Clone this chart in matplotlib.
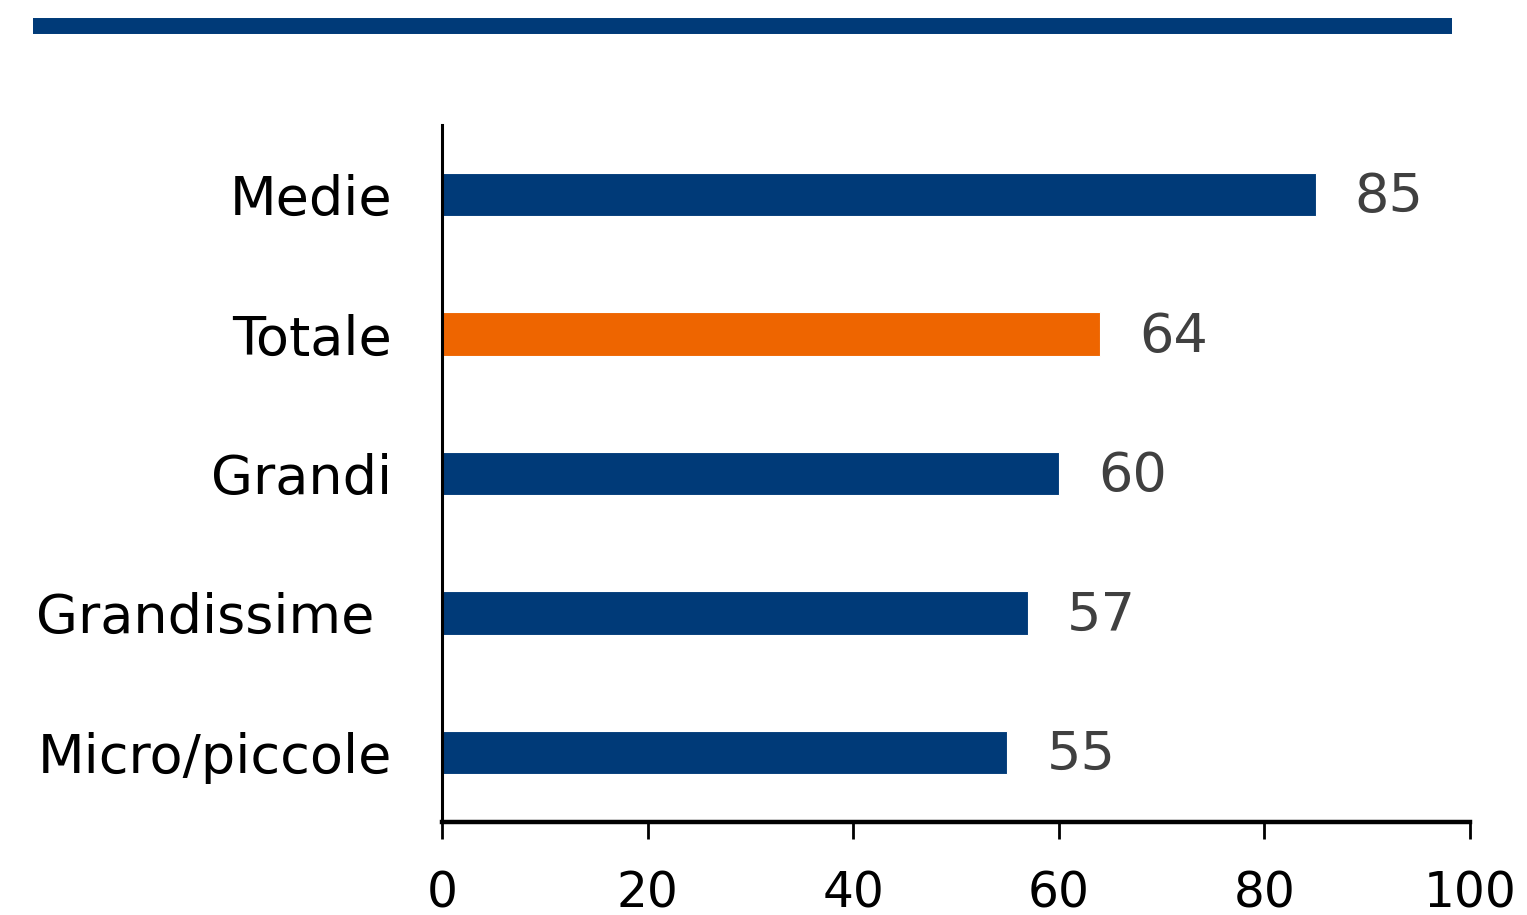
import matplotlib
matplotlib.use("Agg")
import matplotlib.pyplot as plt
from matplotlib.lines import Line2D

categories = ["Micro/piccole", "Grandissime ", "Grandi", "Totale", "Medie"]
values = [55, 57, 60, 64, 85]
colors = ["#003A78", "#003A78", "#003A78", "#EE6500", "#003A78"]
xticks = [0, 20, 40, 60, 80, 100]

fig = plt.figure(figsize=(15.27, 9.15), dpi=100)
ax = fig.add_axes([442/1527, 1-822/915, (1470-442)/1527, (822-125)/915])

ypos = list(range(len(categories)))
ax.barh(ypos, values, height=0.31, color=colors, edgecolor="white", linewidth=0.8)
for y, v in zip(ypos, values):
    ax.text(v + 3.8, y - 0.02, f"{v}", va="center", ha="left", fontsize=39,
            color="#404040", family="DejaVu Sans")

ax.set_xlim(0, 100)
ax.set_ylim(-0.5, 4.5)
ax.set_yticks(ypos)
ax.set_yticklabels(categories, fontsize=39, family="DejaVu Sans", color="black")
ax.tick_params(axis="y", length=0, pad=36)
ax.set_xticks(xticks)
ax.set_xticklabels([str(t) for t in xticks], fontsize=35, family="DejaVu Sans")
ax.tick_params(axis="x", direction="out", length=12, width=2, pad=22)
for s in ["top", "right"]:
    ax.spines[s].set_visible(False)
ax.spines["bottom"].set_linewidth(3.2)
ax.spines["left"].set_linewidth(2.2)

fig.add_artist(Line2D([33/1527, 1452/1527], [1-26/915, 1-26/915],
                      transform=fig.transFigure, color="#003A78", linewidth=11.5,
                      solid_capstyle="butt"))

fig.savefig("out.png", dpi=100)
